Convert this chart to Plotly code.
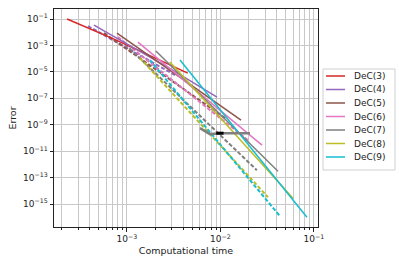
import plotly.graph_objects as go

names = ["DeC(3)", "DeC(4)", "DeC(5)", "DeC(6)", "DeC(7)", "DeC(8)", "DeC(9)"]
colors = ["#d62728", "#9467bd", "#8c564b", "#e377c2", "#7f7f7f", "#bcbd22", "#17becf"]

# solid-line variant (time, error)
t_solid = [
    [2.29e-4, 4.17e-4, 7.59e-4, 1.35e-3, 2.45e-3, 4.47e-3],
    [4.44e-4, 8.13e-4, 1.49e-3, 2.74e-3, 5.01e-3, 9.18e-3],
    [7.82e-4, 1.44e-3, 2.65e-3, 4.89e-3, 8.99e-3, 1.66e-2],
    [1.31e-3, 2.42e-3, 4.45e-3, 8.20e-3, 1.51e-2, 2.78e-2],
    [2.04e-3, 3.72e-3, 6.79e-3, 1.24e-2, 2.26e-2, 4.12e-2],
    [2.88e-3, 5.28e-3, 9.68e-3, 1.77e-2, 3.25e-2, 5.96e-2],
    [3.69e-3, 6.90e-3, 1.29e-2, 2.41e-2, 4.50e-2, 8.41e-2],
]
e_solid = [
    [1.0e-1, 1.66e-2, 2.63e-3, 4.07e-4, 5.89e-5, 8.1e-6],
    [3.5e-2, 3.16e-3, 2.75e-4, 2.19e-5, 1.70e-6, 1.23e-7],
    [8.7e-3, 4.17e-4, 2.0e-5, 9.55e-7, 4.68e-8, 2.24e-9],
    [1.81e-3, 5.0e-5, 1.38e-6, 3.8e-8, 1.05e-9, 2.85e-11],
    [3.77e-4, 5.75e-6, 8.71e-8, 1.32e-9, 2.0e-11, 3.05e-13],
    [5.52e-5, 4.79e-7, 4.17e-9, 3.63e-11, 3.16e-13, 2.75e-15],
    [7.83e-5, 3.31e-7, 1.38e-9, 5.75e-12, 2.4e-14, 1.0e-16],
]

# dashed-line variant (time, error); None = not drawn
t_dash = [
    None,
    [3.83e-4, 6.53e-4, 1.12e-3, 1.91e-3, 3.26e-3],
    [5.68e-4, 1.03e-3, 1.87e-3, 3.39e-3, 6.15e-3, 1.12e-2],
    [8.02e-4, 1.52e-3, 2.88e-3, 5.47e-3, 1.04e-2, 1.97e-2],
    [9.53e-4, 1.82e-3, 3.49e-3, 6.70e-3, 1.28e-2, 2.45e-2],
    [1.38e-3, 2.59e-3, 4.86e-3, 9.12e-3, 1.71e-2, 3.22e-2],
    [1.76e-3, 3.34e-3, 6.34e-3, 1.20e-2, 2.28e-2, 4.33e-2],
]
e_dash = [
    None,
    [2.95e-2, 3.55e-3, 4.17e-4, 4.9e-5, 5.75e-6],
    [8.7e-3, 4.47e-4, 2.29e-5, 1.2e-6, 6.17e-8, 3.16e-9],
    [4.33e-3, 1.2e-4, 3.31e-6, 8.9e-8, 2.45e-9, 6.76e-11],
    [1.28e-3, 1.58e-5, 1.95e-7, 2.4e-9, 2.95e-11, 3.63e-13],
    [1.11e-4, 8.71e-7, 6.92e-9, 5.37e-11, 4.17e-13, 3.27e-15],
    [7.83e-5, 3.39e-7, 1.48e-9, 6.31e-12, 2.75e-14, 1.2e-16],
]

# extra flat DeC(7) segment and black marker
t_flat = [6.04e-3, 7.73e-3, 1.04e-2, 1.43e-2, 2.07e-2]
e_flat = [5.5e-10, 1.95e-10, 2.29e-10, 2.29e-10, 2.29e-10]
t_black = [9.0e-3, 1.08e-2]
e_black = [2.29e-10, 2.29e-10]

y_tickvals = [1e-1, 1e-3, 1e-5, 1e-7, 1e-9, 1e-11, 1e-13, 1e-15]
y_ticktext = ["10<sup>−1</sup>", "10<sup>−3</sup>", "10<sup>−5</sup>", "10<sup>−7</sup>",
              "10<sup>−9</sup>", "10<sup>−11</sup>", "10<sup>−13</sup>", "10<sup>−15</sup>"]
x_tickvals = [1e-3, 1e-2, 1e-1]
x_ticktext = ["10<sup>−3</sup>", "10<sup>−2</sup>", "10<sup>−1</sup>"]
x_minor = [m * 10.0 ** k for k in (-4, -3, -2, -1) for m in range(2, 10)]

fig = go.Figure()
for i, nm in enumerate(names):
    if t_dash[i] is not None:
        fig.add_trace(go.Scatter(x=t_dash[i], y=e_dash[i], mode="lines",
                                 line=dict(color=colors[i], width=2, dash="4px,2px"),
                                 showlegend=False, hoverinfo="skip"))
for i, nm in enumerate(names):
    fig.add_trace(go.Scatter(x=t_solid[i], y=e_solid[i], mode="lines", name=nm,
                             line=dict(color=colors[i], width=1.5), showlegend=False))
fig.add_trace(go.Scatter(x=t_flat, y=e_flat, mode="lines",
                         line=dict(color=colors[4], width=2.5), showlegend=False))
fig.add_trace(go.Scatter(x=t_black, y=e_black, mode="lines",
                         line=dict(color="black", width=3), showlegend=False))

# manual legend (matplotlib-like compact box), positioned in paper coords
L, R, T, B = 54, 318, 9, 227
W, H = R - L, B - T
def px(x):
    return (x - L) / W
def py(y):
    return (B - y) / H

shapes = [dict(type="rect", xref="paper", yref="paper",
               x0=px(323), x1=px(395), y0=py(170), y1=py(69),
               line=dict(color="#d0d0d0", width=1), fillcolor="white", layer="above")]
annotations = []
for i, nm in enumerate(names):
    yy = 76 + 13.5 * i
    shapes.append(dict(type="line", xref="paper", yref="paper",
                       x0=px(326), x1=px(345), y0=py(yy), y1=py(yy),
                       line=dict(color=colors[i], width=1.5), layer="above"))
    annotations.append(dict(text=nm, xref="paper", yref="paper", x=px(352), y=py(yy),
                            xanchor="left", yanchor="middle", showarrow=False,
                            font=dict(size=9, color="#222")))

grid = "#c8c8c8"
fig.update_layout(
    width=399, height=266,
    margin=dict(l=L, r=399 - R, t=T, b=266 - B),
    paper_bgcolor="white", plot_bgcolor="white",
    font=dict(family="DejaVu Sans", size=9, color="#222"),
    showlegend=False,
    shapes=shapes, annotations=annotations,
    xaxis=dict(type="log", range=[-3.78, -0.957], tickvals=x_tickvals, ticktext=x_ticktext,
               showgrid=True, gridcolor=grid, gridwidth=1,
               ticks="outside", ticklen=3.5, tickcolor="#222",
               tickfont=dict(size=9),
               showline=True, linecolor="#222", linewidth=1, mirror=True,
               minor=dict(tickvals=x_minor, showgrid=True, gridcolor=grid, gridwidth=1,
                          ticks="outside", ticklen=2, tickcolor="#222"),
               title=dict(text="Computational time", font=dict(size=9.5), standoff=4),
               zeroline=False),
    yaxis=dict(type="log", range=[-16.74, -0.24], tickvals=y_tickvals, ticktext=y_ticktext,
               showgrid=True, gridcolor=grid, gridwidth=1,
               ticks="outside", ticklen=3.5, tickcolor="#222",
               tickfont=dict(size=9),
               showline=True, linecolor="#222", linewidth=1, mirror=True,
               title=dict(text="Error", font=dict(size=9.5), standoff=4),
               zeroline=False),
)
fig.write_html("out.html", config={"displayModeBar": False},
               post_script="document.body.style.margin='0';")
